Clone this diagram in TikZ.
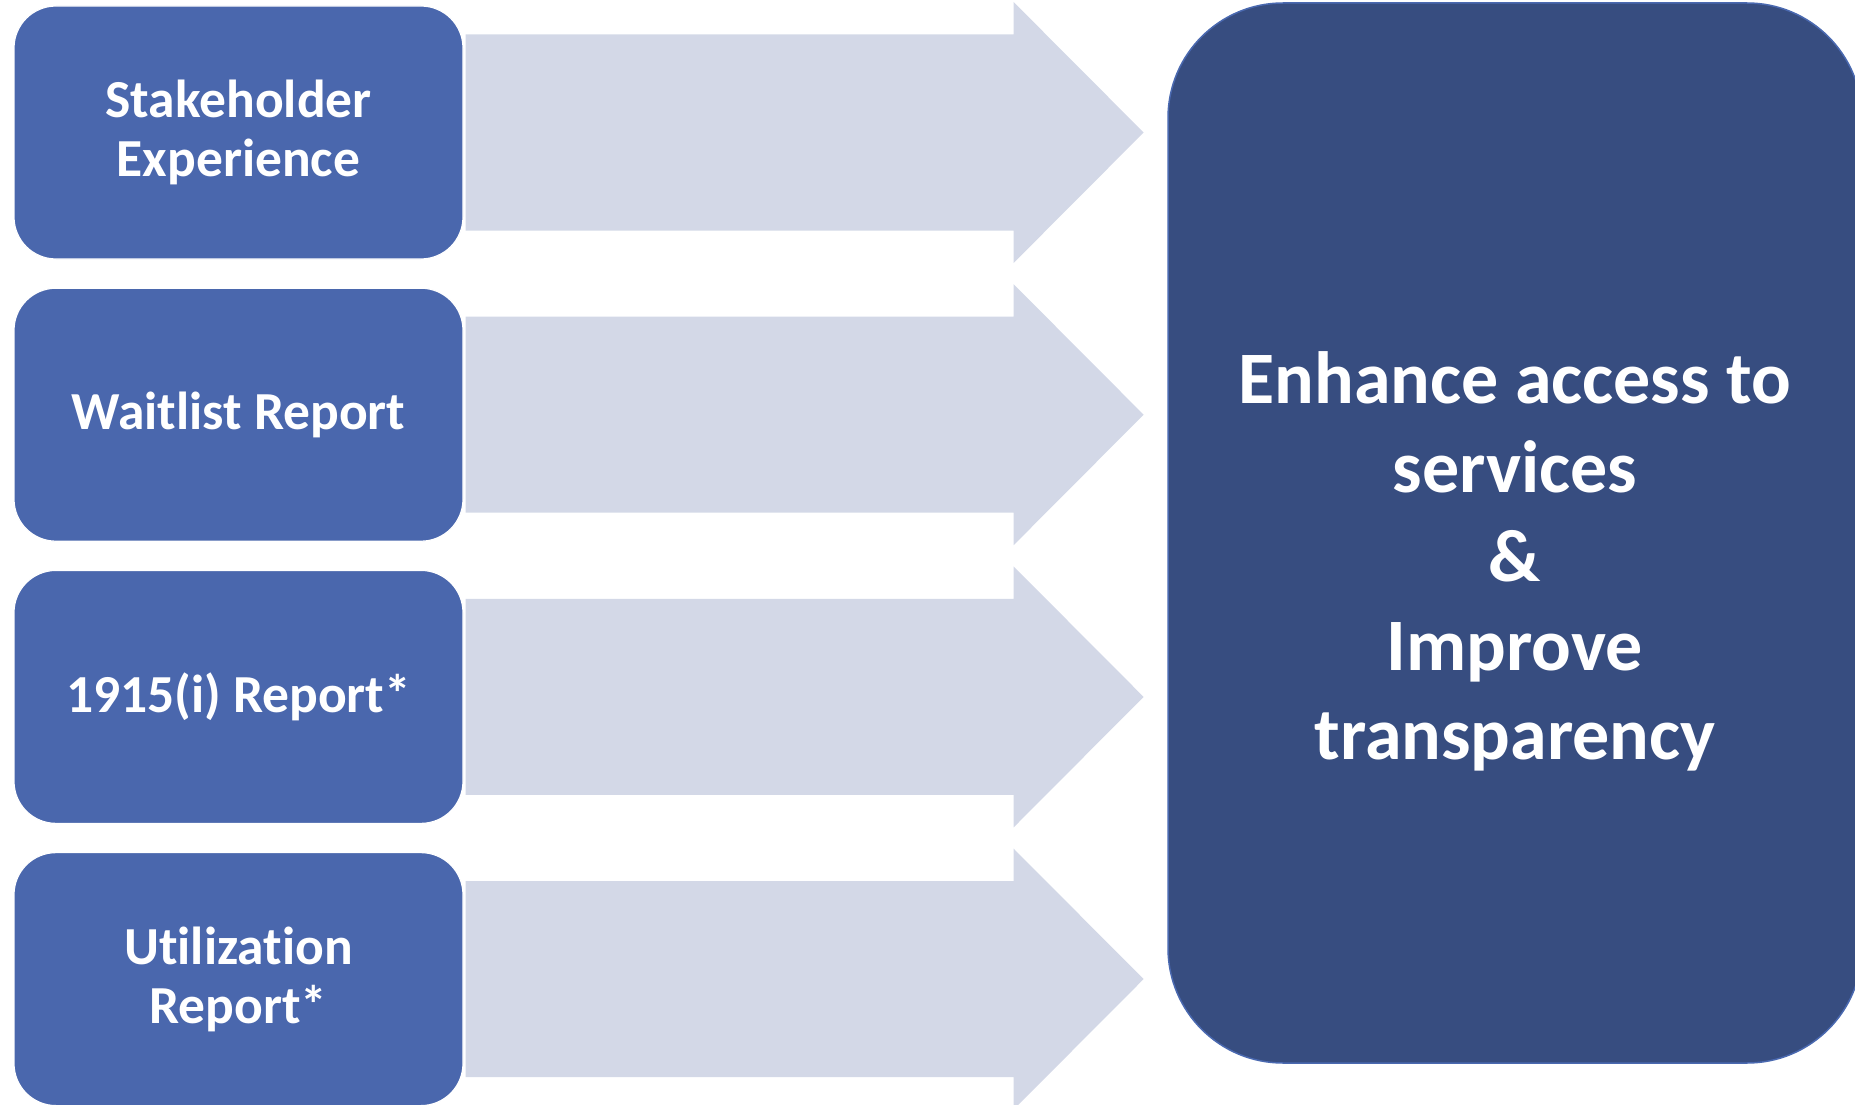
\documentclass[tikz,border=0pt]{standalone}
\usepackage{fontspec}
\setmainfont{Carlito}[Ligatures=NoCommon]
\usetikzlibrary{calc}
\definecolor{boxblue}{RGB}{74,103,173}
\definecolor{darkblue}{RGB}{55,77,128}
\definecolor{edgeblue}{RGB}{74,105,176}
\definecolor{arrowgray}{RGB}{211,216,231}
\begin{document}
\begin{tikzpicture}[x=1pt,y=-1pt,
  inbox/.style={draw=white, line width=1.2pt, fill=boxblue, rounded corners=42pt,
    minimum width=449pt, minimum height=253pt, text=white,
    font=\fontsize{53.5}{59}\selectfont\bfseries, align=center, inner sep=0pt},
  goalbox/.style={draw=edgeblue, line width=1.5pt, fill=darkblue, rounded corners=115pt,
    minimum width=694pt, minimum height=1060pt, inner sep=0pt},
  goaltext/.style={text=white, font=\fontsize{74}{89}\selectfont\bfseries, align=center, inner sep=0pt},
  flowarrow/.style={fill=arrowgray}]
\useasboundingbox (0,0) rectangle (1855,1105);
\clip (0,0) rectangle (1855,1105);
\node[inbox] (s1) at (238.5,132.5) {Stakeholder\\Experience};
\node[inbox] (s2) at (238.5,414.7) {Waitlist Report};
\node[inbox] (s3) at (238.5,696.9) {1915(i) Report*};
\node[inbox] (s4) at (238.5,979.1) {Utilization\\Report*};
\node[goalbox] (goal) at (1515,533) {};
\node[goaltext] (gtext) at (1515,561) {Enhance access to\\services\\\&\\Improve\\transparency};
\foreach \n in {s1,s2,s3,s4}{
  \fill[flowarrow] ($(\n.east)+(2,-98)$) -- ($(\n.east)+(550,-98)$) -- ($(\n.east)+(550,-130.5)$)
    -- ($(\n.east)+(680,0)$) -- ($(\n.east)+(550,130.5)$) -- ($(\n.east)+(550,98)$)
    -- ($(\n.east)+(2,98)$) -- cycle;
}
\end{tikzpicture}
\end{document}
